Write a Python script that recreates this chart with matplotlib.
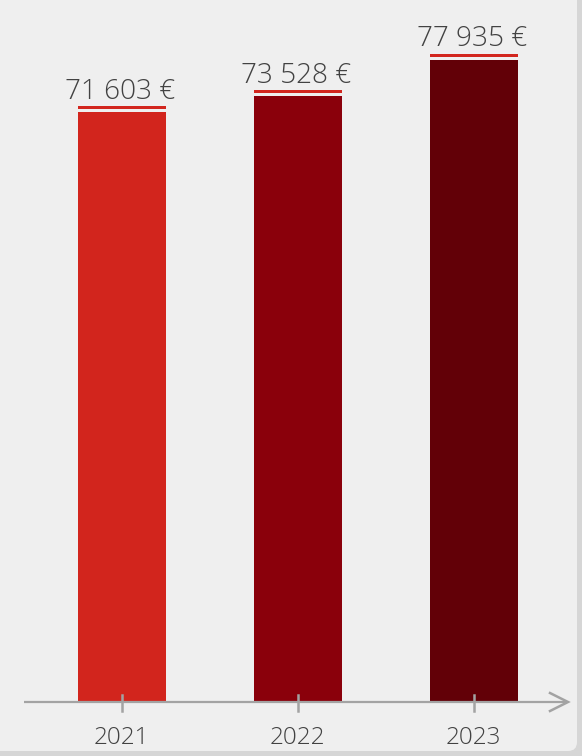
import matplotlib
matplotlib.use("Agg")
import matplotlib.pyplot as plt
from matplotlib.patches import FancyBboxPatch
import numpy as np

years = ["2021", "2022", "2023"]
values = [71603, 73528, 77935]
labels = ["71 603 €", "73 528 €", "77 935 €"]
bar_colors = ["#d2251d", "#8a000b", "#620007"]
accent = "#d2261e"

W, H = 582, 756
fig = plt.figure(figsize=(W / 100, H / 100), dpi=100)
fig.patch.set_facecolor("#d6d6d6")

# background panel in pixel coords
bg = fig.add_axes([0, 0, 1, 1])
bg.set_xlim(0, W)
bg.set_ylim(H, 0)
bg.axis("off")
bg.add_patch(FancyBboxPatch((-20, -20), 597, 771, boxstyle="round,pad=0,rounding_size=9",
                            fc="#efefef", ec="none"))

# data axes: x center 0 at px 122, spacing 176 px; y 0 at px 702
k = 642 / 77935.0  # px per euro
ax = fig.add_axes([0, 0, 1, 1])
ax.patch.set_alpha(0)
ax.axis("off")
sp = 176.0
ax.set_xlim(-122 / sp, (W - 122) / sp)
ax.set_ylim(-(H - 702) / k, 702 / k)

x = np.arange(len(years))
bw = 88 / sp
ax.bar(x, values, width=bw, color=bar_colors, zorder=2)
gap = 3 / k
lw_h = 3 / k
ax.bar(x, [lw_h] * 3, bottom=[v + gap for v in values], width=bw, color=accent, zorder=2)

for xi, v, lab in zip(x, values, labels):
    ax.text(xi - 2 / sp, v + 13.5 / k, lab, ha="center", va="baseline", fontsize=20.2,
            family="Open Sans", fontweight="light", color="#424242")

# axis line with arrow
axis_col = "#a3a3a3"
x0 = (24 - 122) / sp
x1 = (568 - 122) / sp
ax.plot([x0, x1 - 1 / sp], [0, 0], color=axis_col, lw=1.6, solid_capstyle="butt", zorder=3)
ax.plot([x1 - 18 / sp, x1, x1 - 18 / sp], [9 / k, 0, -9 / k], color=axis_col, lw=1.8,
        solid_joinstyle="miter", zorder=3)
for xi in x:
    ax.plot([xi, xi], [-9 / k, 7 / k], color=axis_col, lw=1.8, zorder=3)

for xi, y in zip(x, years):
    ax.text(xi - 1 / sp, -41.5 / k, y, ha="center", va="baseline", fontsize=17.5,
            family="Open Sans", fontweight="light", color="#424242")

fig.savefig("out.png", dpi=100, facecolor=fig.get_facecolor())
